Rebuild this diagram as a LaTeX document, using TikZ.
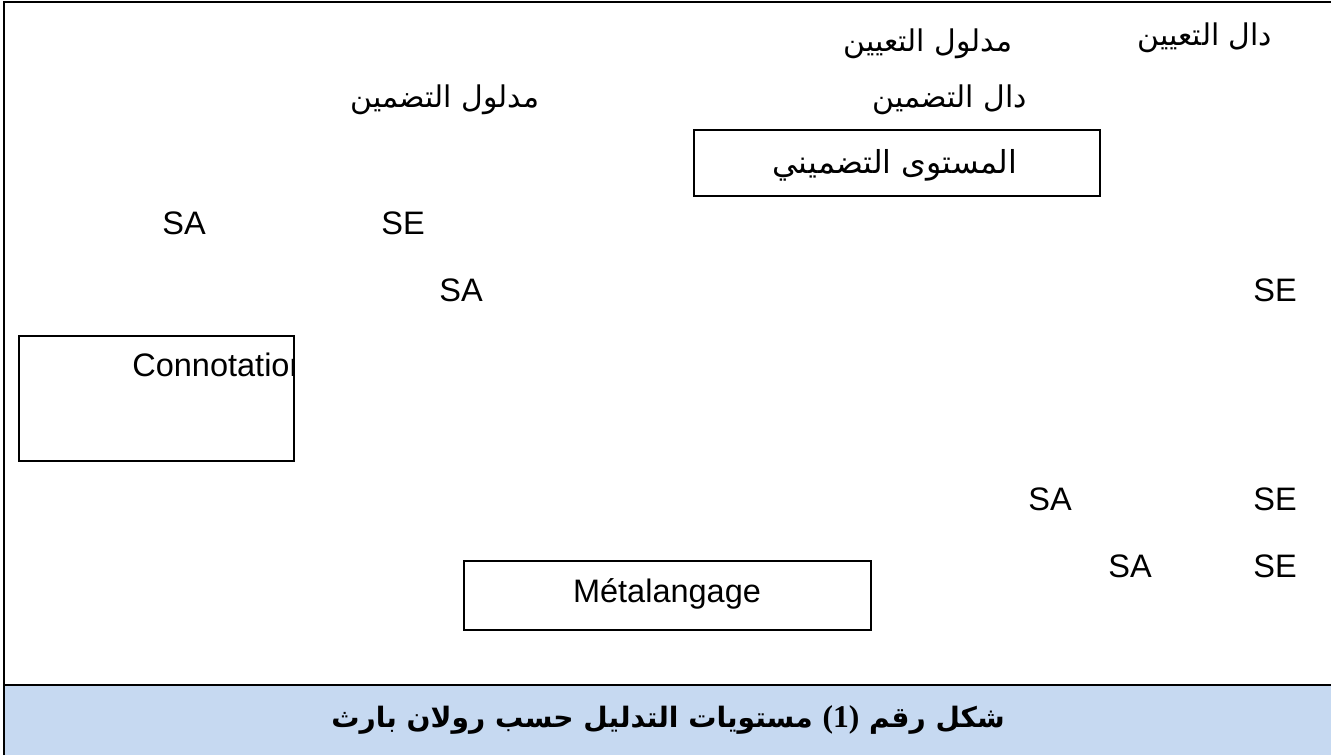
\documentclass[tikz,border=0pt]{standalone}
\usepackage{fontspec}
\setmainfont{Liberation Sans}
\newfontfamily\arabicfont[Script=Arabic]{DejaVu Sans}
\newfontfamily\numfont{Liberation Serif}
\TeXXeTstate=1
\definecolor{capblue}{RGB}{198,217,241}

\begin{document}
\begin{tikzpicture}[x=0.02cm,y=-0.02cm]
\tikzset{lat/.style={font=\fontsize{18.5}{22}\selectfont,inner sep=0pt},
ar/.style={font=\arabicfont\fontsize{17}{20}\selectfont,inner sep=0pt},
frame/.style={line width=1.6pt},
box/.style={draw,line width=1.1pt,inner sep=0pt}
}
\useasboundingbox (0,0) rectangle (1331,755);

% caption band
\fill[capblue] (4,685) rectangle (1331,755);
\draw[frame] (4,755) -- (4,2) -- (1331,2);
\draw[frame] (4,685) -- (1331,685);
\node(cap)[font=\arabicfont\bfseries\fontsize{16}{20}\selectfont,inner sep=0pt] at (668,720)
{\beginR شكل رقم \beginL{\numfont\bfseries\fontsize{18}{20}\selectfont (1)}\endL{} مستويات التدليل حسب رولان بارث\endR};

% denotation level
\node(daltaeyin)[ar] at (1205,38) {\beginR دال التعيين\endR};
\node(madtaeyin)[ar] at (928,44) {\beginR مدلول التعيين\endR};

% connotation level
\node(daltadmin)[ar] at (950,100) {\beginR دال التضمين\endR};
\node(madtadmin)[ar] at (445,100) {\beginR مدلول التضمين\endR};
\node(mustawa)[box,minimum width=8.12cm,minimum height=1.32cm,anchor=north west] at (693,129) {};
\node[ar,font=\arabicfont\fontsize{18}{20}\selectfont] at (895,165) {\beginR المستوى التضميني\endR};

% signs
\node(sa1)[lat] at (184,223) {SA};
\node(se1)[lat] at (403,223) {SE};
\node(sa2)[lat] at (461,290) {SA};
\node(se2)[lat] at (1275,290) {SE};
\node(sa3)[lat] at (1050,499) {SA};
\node(se3)[lat] at (1275,499) {SE};
\node(sa4)[lat] at (1130,566) {SA};
\node(se4)[lat] at (1275,566) {SE};

% Connotation box
\node(conbox)[box,minimum width=5.5cm,minimum height=2.5cm,anchor=north west] at (18,335) {};
\begin{scope}
\clip (conbox.north west) rectangle (conbox.south east);
\node(connot)[lat,anchor=west] at (132,365) {Connotation};
\end{scope}

% Metalangage box
\node(metabox)[box,minimum width=8.14cm,minimum height=1.38cm,anchor=north west] at (463,560) {};
\node(meta)[lat] at (667,594) {Métalangage};
\end{tikzpicture}
\end{document}
